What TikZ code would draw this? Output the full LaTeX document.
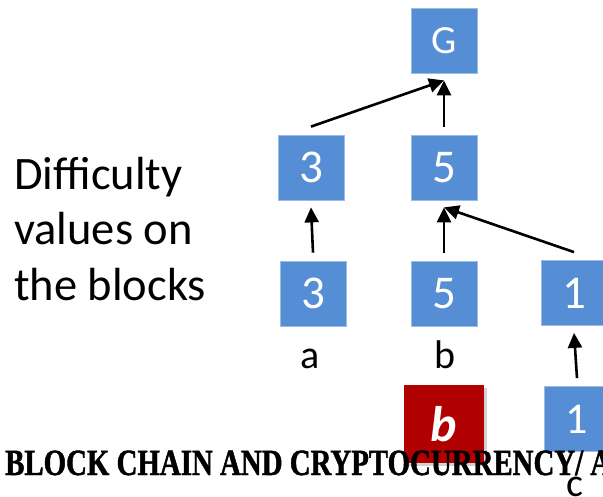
\documentclass[tikz,border=0pt]{standalone}
\usepackage{fontspec}
\setmainfont{Carlito}
\newfontfamily\titlefont[FakeStretch=0.78, FakeBold=1.2]{Liberation Serif Bold}
\usetikzlibrary{arrows.meta,shadows}
\definecolor{boxblue}{RGB}{85,142,213}
\definecolor{boxred}{RGB}{176,0,0}
\begin{document}
\begin{tikzpicture}[x=1pt,y=-1pt,
  blk/.style={fill=boxblue, draw=boxblue!60!white, line width=0.8pt, minimum width=66pt, minimum height=65pt, inner sep=0pt, text=white, font=\fontsize{47}{47}\selectfont},
  arr/.style={line width=2.6pt, -{Triangle[length=15pt,width=14pt]}},
  lbl/.style={font=\fontsize{40}{40}\selectfont, anchor=base, inner sep=0pt},
  desc/.style={font=\fontsize{46.5}{46.5}\selectfont, anchor=base west, inner sep=0pt}]
\useasboundingbox (0,0) rectangle (603,497);
% blocks
\node[blk, font=\fontsize{40}{40}\selectfont] (G) at (444,40.5) {G};
\node[blk] (A2) at (311,167.5) {3};
\node[blk] (B2) at (444,167.5) {5};
\node[blk] (A3) at (313,293.5) {3};
\node[blk] (B3) at (444,294) {5};
\node[blk] (C3) at (574,293) {1};
\node[blk, font=\fontsize{44}{44}\selectfont] (C4) at (577,419) {1};
\node[fill=boxred, minimum width=80pt, minimum height=78pt, inner sep=0pt, text=white,
      drop shadow={shadow xshift=3pt, shadow yshift=-3pt, opacity=0.35},
      font=\bfseries\itshape\fontsize{50}{50}\selectfont] (bad) at (444,424) {b};
% arrows
\draw[arr] ([yshift=8pt]A2.north) -- ([yshift=-7pt]G.south);
\draw[arr] ([yshift=8pt]B2.north) -- ([yshift=-7pt]G.south);
\draw[arr] ([yshift=8pt]A3.north) -- ([yshift=-7pt]A2.south);
\draw[arr] ([yshift=8pt]B3.north) -- ([yshift=-7pt]B2.south);
\draw[arr] ([yshift=8pt]C3.north) -- ([yshift=-7pt]B2.south);
\draw[arr] ([yshift=8pt]C4.north) -- ([yshift=-7pt]C3.south);
% labels
\node[lbl] (la) at (310,368) {a};
\node[lbl] (lb) at (445,368) {b};
\node[lbl] (lc) at (575,496) {c};
\node[desc] (d1) at (14,190) {Difficulty};
\node[desc] (d2) at (14,245) {values on};
\node[desc] (d3) at (14,301) {the blocks};
% title
\node[anchor=base west, inner sep=0pt, font=\titlefont\fontsize{37}{37}\selectfont] (title) at (5,475) {BLOCK CHAIN AND CRYPTOCURRENCY/ A};
\end{tikzpicture}
\end{document}
